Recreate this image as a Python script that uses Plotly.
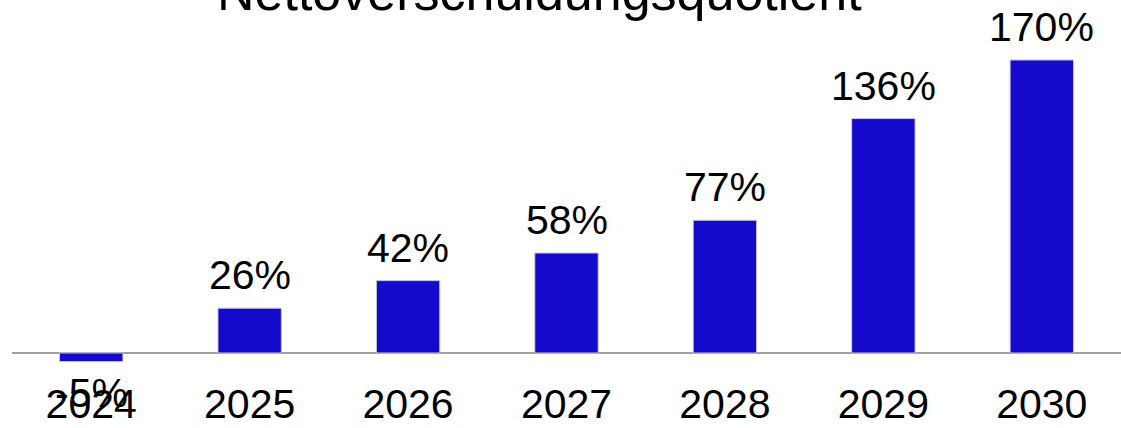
import plotly.graph_objects as go

years = ["2024", "2025", "2026", "2027", "2028", "2029", "2030"]
quote = [-5, 26, 42, 58, 77, 136, 170]
labels = ["-5%", "26%", "42%", "58%", "77%", "136%", "170%"]
title_text = "Nettoverschuldungsquotient"

BAR = "#140ACB"
FONT = "Liberation Sans, Arial, sans-serif"
FS = 41

fig = go.Figure()
fig.add_trace(go.Bar(
    x=years, y=quote,
    marker=dict(color=BAR, line=dict(color="#c8c8d0", width=1)),
    width=0.4,
    hoverinfo="skip",
))

annotations = []
for i, (v, lab) in enumerate(zip(quote, labels)):
    if v >= 0:
        annotations.append(dict(x=i, y=v, text=lab, showarrow=False,
                                yanchor="bottom", yshift=8,
                                font=dict(family=FONT, size=FS, color="black")))
    else:
        annotations.append(dict(x=i, y=v, text=lab, showarrow=False,
                                yanchor="top", yshift=-6,
                                font=dict(family=FONT, size=FS, color="black")))

annotations.append(dict(text=title_text, xref="paper", yref="paper",
                        x=(539 - 12) / 1109, y=1, xanchor="center",
                        yanchor="bottom", yshift=7, showarrow=False,
                        font=dict(family=FONT, size=52, color="black")))

fig.update_layout(
    width=1121, height=428,
    margin=dict(l=12, r=0, t=30, b=52),
    paper_bgcolor="white", plot_bgcolor="white",
    showlegend=False,
    font=dict(family=FONT, size=FS, color="black"),
    annotations=annotations,
    xaxis=dict(type="category", range=[-0.5, len(years) - 0.5],
               automargin=False,
               showline=False, showgrid=False, ticks="",
               tickfont=dict(family=FONT, size=FS, color="black")),
    yaxis=dict(range=[-13.35, 187.4], showgrid=False, showticklabels=False,
               automargin=False,
               zeroline=True, zerolinecolor="#a0a0a0", zerolinewidth=1.5,
               showline=False, ticks=""),
)

fig.write_html("out.html",
               config={"displayModeBar": False},
               post_script="document.body.style.margin='0';document.body.style.padding='0';")
